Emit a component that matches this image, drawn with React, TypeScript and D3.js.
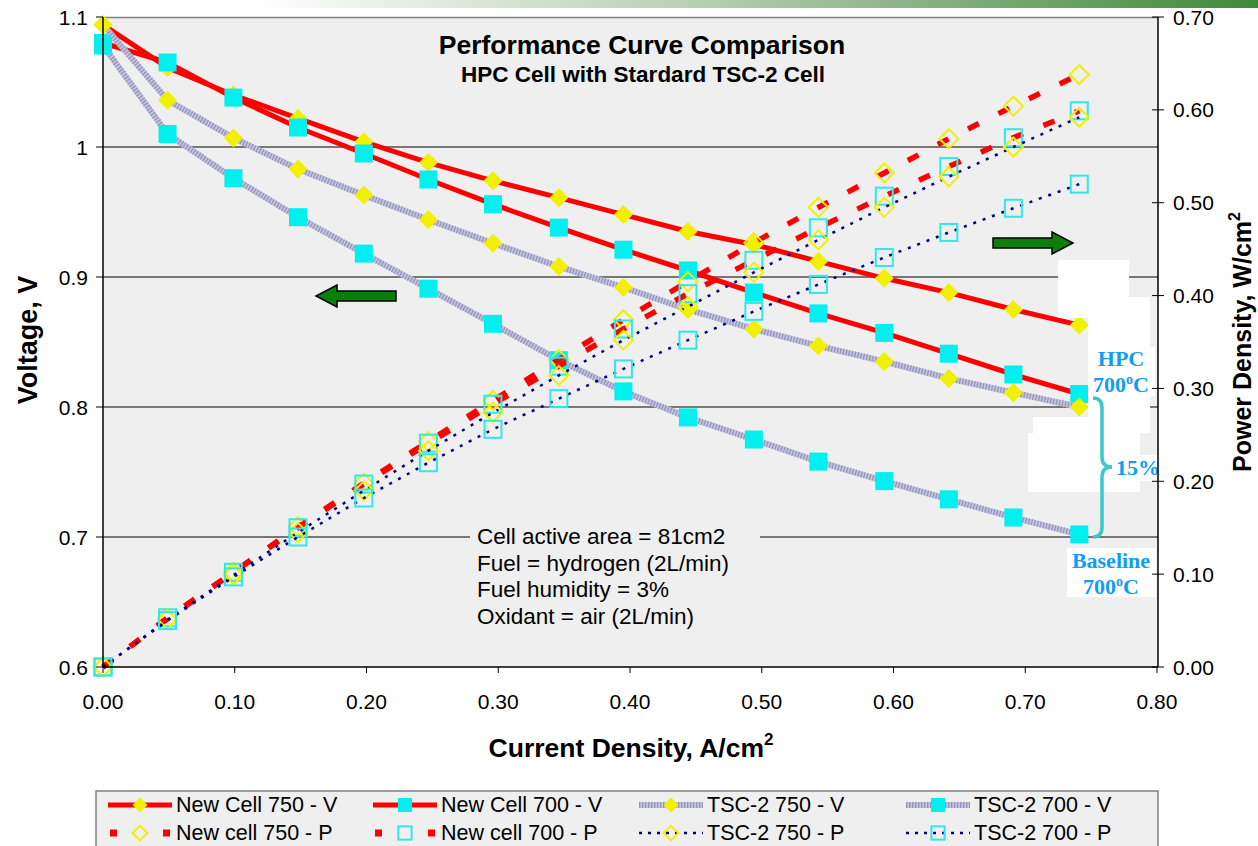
import React from 'react';
import * as d3 from 'd3';

// current density, A/cm2 (4 A steps on an 81 cm2 cell)
const current = [0, 0.049, 0.099, 0.148, 0.198, 0.247, 0.296, 0.346, 0.395, 0.444, 0.494, 0.543, 0.593, 0.642, 0.691, 0.741];

// voltage, V
const newCell750V = [1.094, 1.061, 1.04, 1.022, 1.004, 0.988, 0.974, 0.961, 0.948, 0.935, 0.925, 0.912, 0.899, 0.888, 0.875, 0.863];
const newCell700V = [1.08, 1.065, 1.038, 1.015, 0.995, 0.975, 0.956, 0.938, 0.921, 0.905, 0.888, 0.872, 0.857, 0.841, 0.825, 0.81];
const tsc750V = [1.094, 1.036, 1.007, 0.983, 0.963, 0.944, 0.926, 0.908, 0.892, 0.875, 0.86, 0.847, 0.835, 0.822, 0.811, 0.8];
const tsc700V = [1.078, 1.01, 0.976, 0.946, 0.918, 0.891, 0.864, 0.836, 0.812, 0.792, 0.775, 0.758, 0.743, 0.729, 0.715, 0.702];

// power density, W/cm2
const newCell750P = [0, 0.052, 0.102, 0.151, 0.198, 0.243, 0.287, 0.331, 0.374, 0.415, 0.457, 0.495, 0.532, 0.569, 0.604, 0.638];
const newCell700P = [0, 0.053, 0.102, 0.15, 0.197, 0.241, 0.283, 0.324, 0.364, 0.402, 0.438, 0.473, 0.507, 0.539, 0.57, 0.599];
const tsc750P = [0, 0.051, 0.099, 0.145, 0.19, 0.233, 0.274, 0.314, 0.352, 0.388, 0.425, 0.46, 0.495, 0.528, 0.56, 0.592];
const tsc700P = [0, 0.05, 0.097, 0.14, 0.182, 0.22, 0.256, 0.289, 0.321, 0.352, 0.383, 0.412, 0.441, 0.468, 0.494, 0.52];

const xTicks = [0, 0.1, 0.2, 0.3, 0.4, 0.5, 0.6, 0.7, 0.8];
const vTicks = [0.6, 0.7, 0.8, 0.9, 1.0, 1.1];
const vTickLabels = ['0.6', '0.7', '0.8', '0.9', '1', '1.1'];
const vGrid = [0.7, 0.8, 0.9, 1.0];
const pTicks = [0, 0.1, 0.2, 0.3, 0.4, 0.5, 0.6, 0.7];

const notes = ['Cell active area = 81cm2', 'Fuel = hydrogen (2L/min)', 'Fuel humidity = 3%', 'Oxidant = air (2L/min)'];

const sans = "'Liberation Sans', Arial, sans-serif";
const serif = "'Liberation Serif', 'Times New Roman', serif";

const RED = '#ff0000';
const YEL = '#f0f000';
const CYAN = '#00f0f0';
const NAVY = '#000080';
const HPC_BLUE = '#119cf5';

const x = d3.scaleLinear().domain([0, 0.8]).range([103, 1157]);
const yV = d3.scaleLinear().domain([0.6, 1.1]).range([667, 17]);
const yP = d3.scaleLinear().domain([0, 0.7]).range([667, 17]);

const series = [
  { name: 'New Cell 750 - V', values: newCell750V, axis: 'V', line: 'red', marker: 'diamond' },
  { name: 'New Cell 700 - V', values: newCell700V, axis: 'V', line: 'red', marker: 'square' },
  { name: 'TSC-2 750 - V', values: tsc750V, axis: 'V', line: 'hatch', marker: 'diamond' },
  { name: 'TSC-2 700 - V', values: tsc700V, axis: 'V', line: 'hatch', marker: 'square' },
  { name: 'New cell 750 - P', values: newCell750P, axis: 'P', line: 'redDash', marker: 'diamondOpen' },
  { name: 'New cell 700 - P', values: newCell700P, axis: 'P', line: 'redDash', marker: 'squareOpen' },
  { name: 'TSC-2 750 - P', values: tsc750P, axis: 'P', line: 'dots', marker: 'diamondOpen' },
  { name: 'TSC-2 700 - P', values: tsc700P, axis: 'P', line: 'dots', marker: 'squareOpen' },
];

function Marker({ type, cx, cy, s = 1 }) {
  if (type === 'diamond') {
    const h = 9.5 * s;
    return <path d={`M${cx},${cy - h}L${cx + h},${cy}L${cx},${cy + h}L${cx - h},${cy}Z`} fill={YEL} />;
  }
  if (type === 'square') {
    const h = 9 * s;
    return <rect x={cx - h} y={cy - h} width={2 * h} height={2 * h} fill={CYAN} />;
  }
  if (type === 'diamondOpen') {
    const h = 9.5 * s;
    return <path d={`M${cx},${cy - h}L${cx + h},${cy}L${cx},${cy + h}L${cx - h},${cy}Z`} fill="none" stroke={YEL} strokeWidth={2} />;
  }
  const h = 8.5 * s;
  return <rect x={cx - h} y={cy - h} width={2 * h} height={2 * h} fill="none" stroke="#2fe8e8" strokeWidth={2} />;
}

function SeriesLine({ d, kind }) {
  if (kind === 'red') return <path d={d} fill="none" stroke={RED} strokeWidth={5} strokeLinejoin="round" />;
  if (kind === 'hatch')
    return (
      <g>
        <path d={d} fill="none" stroke="#c4c4dc" strokeWidth={6} />
        <path d={d} fill="none" stroke="#9494bf" strokeWidth={6} strokeDasharray="1.3,1.7" />
      </g>
    );
  if (kind === 'redDash') return <path d={d} fill="none" stroke={RED} strokeWidth={5.5} strokeDasharray="12,22" />;
  return <path d={d} fill="none" stroke={NAVY} strokeWidth={2.5} strokeDasharray="3,7" />;
}

function LegendSymbol({ s, x0, y }) {
  const cx = x0 + 32;
  let line;
  if (s.line === 'red') line = <line x1={x0} x2={x0 + 64} y1={y} y2={y} stroke={RED} strokeWidth={5} />;
  else if (s.line === 'hatch')
    line = (
      <g>
        <line x1={x0} x2={x0 + 64} y1={y} y2={y} stroke="#c4c4dc" strokeWidth={6} />
        <line x1={x0} x2={x0 + 64} y1={y} y2={y} stroke="#9494bf" strokeWidth={6} strokeDasharray="1.3,1.7" />
      </g>
    );
  else if (s.line === 'redDash')
    line = (
      <g>
        <rect x={x0 + 2} y={y - 3.5} width={7} height={7} fill={RED} />
        <rect x={x0 + 55} y={y - 3.5} width={7} height={7} fill={RED} />
      </g>
    );
  else line = <line x1={x0} x2={x0 + 64} y1={y} y2={y} stroke={NAVY} strokeWidth={2.5} strokeDasharray="3,6" />;
  return (
    <g>
      {line}
      <Marker type={s.marker} cx={cx} cy={y} s={0.78} />
    </g>
  );
}

function Arrow({ tail, tip, y }) {
  const dir = Math.sign(tip - tail);
  const hb = tip - dir * 21;
  const d = `M${tail},${y - 5}L${hb},${y - 5}L${hb},${y - 11}L${tip},${y}L${hb},${y + 11}L${hb},${y + 5}L${tail},${y + 5}Z`;
  return <path d={d} fill="#0b7f0b" stroke="#000" strokeWidth={1.5} />;
}

export default function App() {
  const legendCols = [108, 373, 639, 906];
  const legendRows = [805, 833];

  return (
    <svg width={1258} height={846} style={{ position: 'absolute', left: 0, top: 0, background: '#fff' }} fontFamily={sans}>
      <defs>
        <linearGradient id="banner" x1="0" x2="1" y1="0" y2="0">
          <stop offset="0" stopColor="#ffffff" />
          <stop offset="0.45" stopColor="#b7cdb2" />
          <stop offset="1" stopColor="#3f8a39" />
        </linearGradient>
      </defs>
      <rect x={250} y={0} width={1008} height={8} fill="url(#banner)" />

      {/* plot area */}
      <rect x={103} y={17} width={1055} height={650} fill="#efefef" />
      <line x1={103} x2={1158} y1={17.5} y2={17.5} stroke="#808080" strokeWidth={1.5} />
      {vGrid.map((v) => (
        <line key={v} x1={103} x2={1158} y1={yV(v)} y2={yV(v)} stroke="#000" strokeWidth={1} />
      ))}

      {/* notes box */}
      <rect x={470} y={522} width={290} height={104} fill="#efefef" />
      {notes.map((t, i) => (
        <text key={t} x={477} y={544 + i * 26.5} fontSize={22.5} fill="#000">
          {t}
        </text>
      ))}

      {/* series */}
      {series.map((s) => {
        const ys = s.axis === 'V' ? yV : yP;
        const gen = d3
          .line<number>()
          .x((_, i) => x(current[i]))
          .y((v) => ys(v));
        return (
          <g key={s.name}>
            <SeriesLine d={gen(s.values)} kind={s.line} />
            {s.values.map((v, i) => (
              <Marker key={i} type={s.marker} cx={x(current[i])} cy={ys(v)} />
            ))}
          </g>
        );
      })}

      {/* white patches */}
      <rect x={1058} y={260} width={71} height={37} fill="#fff" />
      <rect x={1058} y={297} width={92} height={21} fill="#fff" />
      <rect x={1088} y={318} width={62} height={115} fill="#fff" />
      <rect x={1033} y={417} width={85} height={16} fill="#fff" />
      <rect x={1028} y={433} width={112} height={59} fill="#fff" />
      <rect x={1088} y={347} width={67} height={49} fill="#fff" />
      <rect x={1113} y={455} width={49} height={26} fill="#fff" />
      <rect x={1067} y={548} width={89} height={49} fill="#fff" />

      {/* brace + labels */}
      <path
        d="M1093,398 Q1102,398 1102,408 L1102,457 Q1102,467 1112,467 Q1102,467 1102,477 L1102,527 Q1102,537 1093,537"
        fill="none"
        stroke="#3cc8c8"
        strokeWidth={3.5}
      />
      <g fontFamily={serif} fontWeight="bold" fill={HPC_BLUE} fontSize={22} textAnchor="middle">
        <text x={1121} y={366}>HPC</text>
        <text x={1121} y={392}>
          700<tspan fontSize={14} dy={-8}>o</tspan>
          <tspan dy={8}>C</tspan>
        </text>
        <text x={1138} y={475}>15%</text>
        <text x={1111} y={568}>Baseline</text>
        <text x={1111} y={594}>
          700<tspan fontSize={14} dy={-8}>o</tspan>
          <tspan dy={8}>C</tspan>
        </text>
      </g>

      <Arrow tail={396} tip={316} y={296} />
      <Arrow tail={993} tip={1073} y={243} />

      {/* axes */}
      <line x1={103} x2={103} y1={17} y2={667} stroke="#000" strokeWidth={1.5} />
      <line x1={103} x2={1158} y1={667} y2={667} stroke="#000" strokeWidth={1.5} />
      <line x1={1158} x2={1158} y1={17} y2={667} stroke="#000" strokeWidth={1.5} />
      {vTicks.map((v, i) => (
        <g key={v}>
          <line x1={96} x2={103} y1={yV(v)} y2={yV(v)} stroke="#000" />
          <text x={88} y={yV(v)} dy="0.36em" textAnchor="end" fontSize={21}>
            {vTickLabels[i]}
          </text>
        </g>
      ))}
      {pTicks.map((p) => (
        <g key={p}>
          <line x1={1152} x2={1164} y1={yP(p)} y2={yP(p)} stroke="#000" />
          <text x={1173} y={yP(p)} dy="0.36em" fontSize={21}>
            {d3.format('.2f')(p)}
          </text>
        </g>
      ))}
      {xTicks.map((t) => (
        <g key={t}>
          <line x1={x(t)} x2={x(t)} y1={667} y2={673} stroke="#000" />
          <text x={x(t)} y={709} textAnchor="middle" fontSize={21}>
            {d3.format('.2f')(t)}
          </text>
        </g>
      ))}

      {/* titles */}
      <text x={642} y={54} textAnchor="middle" fontSize={26.5} fontWeight="bold">
        Performance Curve Comparison
      </text>
      <text x={643} y={82} textAnchor="middle" fontSize={22.5} fontWeight="bold">
        HPC Cell with Stardard TSC-2 Cell
      </text>
      <text x={631} y={757} textAnchor="middle" fontSize={26.5} fontWeight="bold">
        Current Density, A/cm<tspan fontSize={17} dy={-12}>2</tspan>
      </text>
      <text transform="translate(37,340) rotate(-90)" textAnchor="middle" fontSize={27} fontWeight="bold">
        Voltage, V
      </text>
      <text transform="translate(1251,342) rotate(-90)" textAnchor="middle" fontSize={25} fontWeight="bold">
        Power Density, W/cm<tspan fontSize={16} dy={-11}>2</tspan>
      </text>

      {/* legend */}
      <rect x={96} y={791} width={1062} height={70} fill="#efefef" stroke="#808080" strokeWidth={1.5} />
      {series.map((s, i) => {
        const col = i % 4;
        const row = Math.floor(i / 4);
        const x0 = legendCols[col];
        const y = legendRows[row];
        return (
          <g key={s.name}>
            <LegendSymbol s={s} x0={x0} y={y} />
            <text x={x0 + 68} y={y + 7} fontSize={21.5}>
              {s.name}
            </text>
          </g>
        );
      })}
    </svg>
  );
}
